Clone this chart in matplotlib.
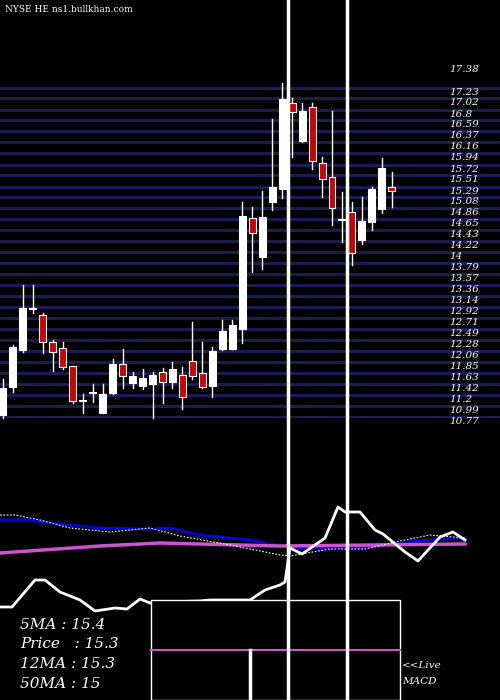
import matplotlib
matplotlib.use("Agg")
import matplotlib.pyplot as plt
from matplotlib.patches import Rectangle

opens  = [10.81,11.36,12.09,12.89,12.77,12.24,12.12,11.77,11.10,11.24,10.85,11.24,11.81,11.44,11.38,11.42,11.66,11.46,11.60,11.87,
          11.64,11.38,12.10,12.10,12.50,14.67,13.91,14.99,15.24,16.93,16.18,16.85,15.75,15.48,14.66,14.79,14.24,14.60,14.85,15.28]
highs  = [11.52,12.18,13.36,13.36,12.81,12.28,12.24,11.77,11.22,11.42,11.42,11.91,12.10,11.66,11.71,11.66,11.73,11.85,11.75,12.64,
          12.24,12.14,12.67,12.67,14.99,14.89,15.20,16.62,17.32,17.03,16.93,16.93,15.87,16.77,15.18,14.99,15.09,15.28,15.85,15.58]
lows   = [10.75,11.26,12.05,12.81,12.03,11.67,11.71,11.05,10.85,11.07,10.85,11.22,11.34,11.34,11.32,10.75,11.05,11.34,10.93,11.52,
          11.34,11.17,12.09,12.10,12.22,13.62,13.67,14.83,15.07,15.87,16.16,15.64,15.09,14.54,14.20,13.75,14.16,14.44,14.77,14.89]
closes = [11.34,12.14,12.91,12.90,12.24,12.05,11.75,11.09,11.09,11.25,11.22,11.81,11.58,11.58,11.54,11.60,11.46,11.71,11.17,11.58,
          11.36,12.07,12.46,12.58,14.71,14.38,14.69,15.28,17.01,16.75,16.77,15.79,15.44,14.87,14.64,13.99,14.61,15.24,15.66,15.20]

levels = [17.38,17.23,17.02,16.80,16.59,16.37,16.16,15.94,15.72,15.51,15.29,15.08,14.86,14.65,14.43,14.22,14.00,13.79,13.57,13.36,
          13.14,12.92,12.71,12.49,12.28,12.06,11.85,11.63,11.42,11.20,10.99,10.77]
level_labels = ["17.38","17.23","17.02","16.8","16.59","16.37","16.16","15.94","15.72","15.51","15.29","15.08","14.86","14.65","14.43",
                "14.22","14","13.79","13.57","13.36","13.14","12.92","12.71","12.49","12.28","12.06","11.85","11.63","11.42","11.2","10.99","10.77"]

# lower panel (pixel coordinates of the original 500x700 chart)
blue_x = [0,27,60,100,150,170,200,250,280,300,365,400,440,465]
blue_y = [520,520,524,528,529,528,535,540,546,548,548,543,539,538]
mag_x = [0,100,160,200,280,465]
mag_y = [553,546,543,544,546,544]
dot_x = [0,15,40,70,110,150,180,230,280,290,330,365,400,430,465]
dot_y = [515,515,520,528,532,528,536,545,555,556,549,549,541,535,538]
wl_x = [0,12,35,45,60,80,95,115,127,140,150,160,200,210,250,265,280,285,290,302,325,338,345,360,375,383,405,418,440,453,465]
wl_y = [607,607,580,580,592,600,611,608,609,599,603,602,601,600,600,590,585,582,548,554,538,507,512,512,530,534,552,561,537,532,540]

stats = ["5MA : 15.4", "Price   : 15.3", "12MA : 15.3", "50MA : 15"]

fig = plt.figure(figsize=(5, 7), dpi=100, facecolor="black")

ax = fig.add_axes([0, (700-418)/700, 1, 338/700])
ax.set_facecolor("black")
ax.set_xlim(-0.3, 49.85)
ax.set_ylim(10.75, 17.38)
ax.axis("off")
for lv in levels[1:]:
    ax.axhline(lv, color="#1c1c50", lw=2.2, zorder=1)
for i in range(len(opens)):
    o, h, l, c = opens[i], highs[i], lows[i], closes[i]
    ax.plot([i, i], [l, h], color="white", lw=1, zorder=2, clip_on=False)
    up = c >= o
    body = max(abs(c - o), 0.02)
    ax.add_patch(Rectangle((i - 0.35, min(o, c)), 0.7, body,
                           facecolor="white" if up else "#cc0000", edgecolor="white",
                           lw=0.8, zorder=3, clip_on=False))
for k, (lv, lb) in enumerate(zip(levels, level_labels)):
    ax.text(44.8, lv - (0.0 if k else -0.2), lb, color="white", fontsize=7.5, family="DejaVu Serif",
            style="italic", va="top" if k else "center", zorder=4, clip_on=False)

ov = fig.add_axes([0, 0, 1, 1], facecolor="none")
ov.set_xlim(0, 500)
ov.set_ylim(700, 0)
ov.axis("off")
ov.text(5, 10, "NYSE HE ns1.bullkhan.com", color="white", fontsize=6.5, family="DejaVu Serif", va="center")
ov.plot(blue_x, blue_y, color="#0000dd", lw=2)
ov.plot(mag_x, mag_y, color="#cc55cc", lw=2.5)
ov.plot(dot_x, dot_y, color="white", lw=0.8, ls=(0, (1.5, 1.5)))
ov.plot(wl_x, wl_y, color="white", lw=2)
ov.add_patch(Rectangle((151, 600), 249, 100, facecolor="black", edgecolor="white", lw=1, zorder=5))
ov.plot([151, 400], [650, 650], color="#cc55cc", lw=1.5, zorder=6)
ov.plot([250, 250], [650, 700], color="white", lw=2.5, zorder=6)
ov.plot([288, 288], [0, 700], color="white", lw=2.5, zorder=7)
ov.plot([347, 347], [0, 700], color="white", lw=2.5, zorder=7)
for j, s in enumerate(stats):
    ov.text(20, 625 + j * 19.5, s, color="white", fontsize=11, family="DejaVu Serif", style="italic", va="center", zorder=8)
ov.text(402, 666, "<<Live", color="white", fontsize=7.5, family="DejaVu Serif", style="italic", va="center")
ov.text(402, 681, "MACD", color="white", fontsize=7.5, family="DejaVu Serif", style="italic", va="center")

fig.savefig("out.png", dpi=100, facecolor="black")
